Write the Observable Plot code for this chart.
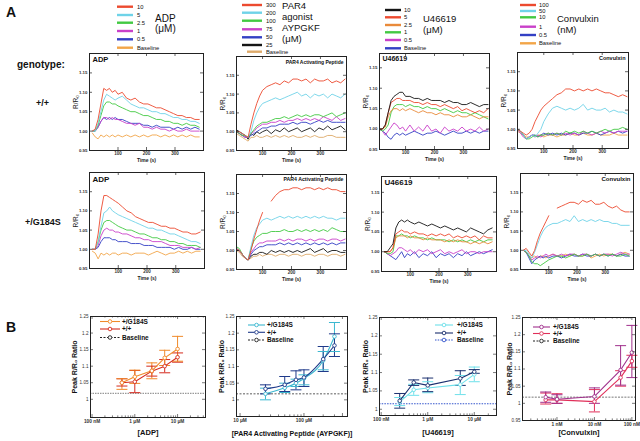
<!DOCTYPE html>
<html><head><meta charset="utf-8">
<script src="https://cdn.jsdelivr.net/npm/d3@7"></script>
<script src="https://cdn.jsdelivr.net/npm/@observablehq/plot@0.6"></script>
<style>
html,body{margin:0;padding:0;background:#fff}
#root{position:relative;width:640px;height:441px;overflow:hidden;background:#fff}
</style></head><body><div id="root"></div>
<script>
const FONT='"Liberation Sans", Arial, Helvetica, sans-serif';
const times=[10,20,30,40,50,60,70,80,90,100,115,130,145,160,175,190,205,220,235,250,265,280,295,310,325,340,355,370,385];

// colours
const RED="#ec4a2f", CYAN="#6fd3e8", GREEN="#42c942", MAG="#c940c9", BLUE="#3340c4", ORANGE="#f2a548", BLACK="#151515", ORANGE2="#e98a3a", TAN="#deaa6a";

// ---- A: ADP +/+
const adpWT10=[1.000,1.005,1.030,1.070,1.110,1.105,1.110,1.100,1.105,1.095,1.100,1.085,1.080,1.085,1.075,1.070,1.070,1.065,1.060,1.060,1.055,1.050,1.045,1.040,1.040,1.035,1.035,1.030,1.030];
const adpWT5=[1.000,1.000,1.020,1.050,1.080,1.095,1.090,1.085,1.080,1.085,1.090,1.080,1.070,1.065,1.060,1.060,1.055,1.050,1.050,1.045,1.045,1.040,1.035,1.035,1.030,1.030,1.025,1.025,1.020];
const adpWT2_5=[1.000,1.000,1.015,1.040,1.065,1.075,1.075,1.070,1.070,1.065,1.060,1.055,1.050,1.050,1.045,1.040,1.040,1.035,1.030,1.030,1.025,1.025,1.020,1.020,1.015,1.020,1.015,1.015,1.010];
const adpWT1=[1.000,1.000,1.010,1.025,1.035,1.035,1.030,1.035,1.030,1.030,1.025,1.020,1.020,1.015,1.020,1.010,1.010,1.005,1.010,1.005,1.005,1.000,1.005,1.000,1.000,1.005,1.000,1.000,1.000];
const adpWT0_5=[1.000,1.000,1.010,1.025,1.035,1.030,1.035,1.030,1.035,1.030,1.030,1.025,1.020,1.020,1.020,1.015,1.015,1.010,1.015,1.010,1.010,1.010,1.005,1.010,1.005,1.010,1.005,1.010,1.005];
const adpWTb=[0.995,0.985,0.980,0.990,0.985,0.990,0.985,0.990,0.985,0.990,0.985,0.990,0.985,0.990,0.985,0.990,0.985,0.990,0.990,0.985,0.990,0.985,0.990,0.985,0.990,0.985,0.990,0.985,0.985];
// ---- A: ADP +/G184S
const adpMT10=[1.000,1.000,1.040,1.100,1.140,1.140,1.135,1.130,1.125,1.120,1.110,1.100,1.095,1.085,1.080,1.075,1.070,1.070,1.065,1.060,1.060,1.055,1.055,1.050,1.045,1.045,1.040,1.040,1.045];
const adpMT5=[1.000,1.000,1.020,1.060,1.095,1.100,1.110,1.100,1.095,1.090,1.085,1.080,1.075,1.070,1.065,1.060,1.055,1.055,1.050,1.050,1.045,1.040,1.040,1.035,1.030,1.025,1.020,1.020,1.015];
const adpMT2_5=[1.000,1.000,1.020,1.050,1.070,1.075,1.075,1.070,1.065,1.060,1.055,1.050,1.050,1.045,1.040,1.040,1.035,1.030,1.030,1.025,1.025,1.020,1.020,1.015,1.015,1.010,1.010,1.010,1.005];
const adpMT1=[1.000,1.000,1.010,1.035,1.050,1.055,1.050,1.050,1.045,1.045,1.040,1.040,1.035,1.030,1.030,1.025,1.025,1.020,1.020,1.020,1.015,1.010,1.010,1.010,1.005,1.005,1.005,1.000,1.005];
const adpMT0_5=[1.000,1.000,1.005,1.020,1.030,1.030,1.030,1.025,1.025,1.020,1.020,1.020,1.015,1.015,1.015,1.010,1.010,1.010,1.005,1.005,1.005,1.005,1.000,1.005,1.000,1.000,1.005,1.000,1.000];
const adpMTb=[0.995,0.990,0.975,0.990,0.985,0.990,0.985,0.990,0.990,0.985,0.990,0.990,0.985,0.990,0.990,0.990,0.985,0.990,0.995,0.990,0.985,0.990,0.990,0.995,0.990,0.995,0.990,0.995,0.995];
// ---- A: PAR4 +/+
const parWT300=[1.000,1.000,0.995,0.990,0.985,1.020,1.050,1.075,1.095,1.110,1.120,1.125,1.130,1.125,1.135,1.130,1.140,1.140,1.135,1.140,1.130,1.140,1.135,1.135,1.140,1.130,1.135,1.130,1.140];
const parWT200=[1.000,1.000,0.995,0.990,0.985,1.000,1.030,1.050,1.065,1.075,1.080,1.085,1.090,1.085,1.090,1.095,1.100,1.105,1.095,1.100,1.090,1.100,1.095,1.100,1.090,1.100,1.095,1.090,1.100];
const parWT100=[1.000,0.995,0.990,0.990,0.985,0.995,1.005,1.015,1.020,1.025,1.025,1.030,1.035,1.035,1.040,1.035,1.040,1.045,1.040,1.045,1.040,1.045,1.045,1.040,1.045,1.050,1.040,1.045,1.050];
const parWT75=[1.000,0.995,0.990,0.985,0.985,0.995,1.000,1.010,1.015,1.020,1.020,1.025,1.025,1.030,1.025,1.030,1.030,1.035,1.030,1.035,1.030,1.035,1.030,1.040,1.035,1.030,1.040,1.030,1.035];
const parWT50=[1.000,0.995,0.990,0.985,0.985,0.990,0.995,1.000,1.005,1.010,1.010,1.015,1.015,1.020,1.020,1.020,1.025,1.020,1.025,1.025,1.020,1.025,1.030,1.025,1.030,1.025,1.025,1.025,1.025];
const parWT25=[1.005,1.000,0.995,0.990,0.980,0.995,0.990,1.000,0.995,1.000,1.005,0.995,1.005,1.000,1.010,1.000,1.005,1.010,1.000,1.005,1.010,1.000,1.010,1.005,1.015,1.005,1.010,1.015,1.005];
const parWTb=[0.995,0.990,0.985,0.980,0.975,0.985,0.985,0.990,0.985,0.985,0.990,0.985,0.990,0.985,0.990,0.985,0.990,0.985,0.985,0.990,0.985,0.990,0.985,0.985,0.990,0.990,0.985,0.985,0.985];
// ---- A: PAR4 +/G184S (NaN = gap in trace)
const parMT300=[1.005,1.000,0.990,0.980,0.975,1.000,1.030,1.055,1.080,1.100,NaN,1.130,1.145,1.155,1.160,1.160,1.165,1.165,1.160,1.165,1.165,1.160,1.165,1.160,1.165,1.160,1.160,1.155,1.155];
const parMT200=[1.005,1.000,0.990,0.980,0.975,1.010,1.040,1.060,1.070,1.080,1.085,1.080,1.085,1.090,1.085,1.090,1.085,1.090,1.085,1.090,1.085,1.090,1.085,1.090,1.085,1.085,1.080,1.085,1.085];
const parMT100=[1.010,1.005,0.990,0.980,0.975,1.005,1.025,1.035,1.040,1.045,1.045,1.050,1.050,1.050,1.055,1.050,1.050,1.055,1.050,1.055,1.050,1.055,1.050,1.055,1.050,1.060,1.055,1.050,1.050];
const parMT75=[1.005,1.000,0.990,0.980,0.975,0.995,1.005,1.015,1.020,1.020,1.025,1.025,1.025,1.030,1.025,1.030,1.025,1.030,1.030,1.025,1.030,1.025,1.030,1.030,1.025,1.030,1.030,1.025,1.030];
const parMT50=[1.005,1.000,0.990,0.980,0.975,0.990,1.000,1.005,1.010,1.010,1.015,1.015,1.015,1.020,1.015,1.020,1.015,1.020,1.015,1.020,1.015,1.020,1.015,1.020,1.015,1.020,1.015,1.020,1.020];
const parMT25=[1.000,1.000,0.990,0.980,0.975,0.985,0.990,0.990,0.995,0.995,0.990,1.000,0.995,1.000,0.995,1.000,0.995,1.000,0.995,1.000,1.005,0.995,1.000,1.005,0.995,1.000,1.000,0.995,0.995];
const parMTb=[1.000,0.995,0.985,0.980,0.975,0.980,0.985,0.985,0.990,0.985,0.990,0.990,0.985,0.990,0.990,0.985,0.990,0.990,0.985,0.990,0.990,0.985,0.990,0.990,0.985,0.990,0.990,0.985,0.990];
// ---- A: U46619 +/+
const uWT10=[1.000,1.000,1.010,1.040,1.070,1.080,1.085,1.090,1.090,1.080,1.080,1.075,1.075,1.070,1.075,1.070,1.070,1.070,1.065,1.070,1.065,1.065,1.060,1.060,1.065,1.060,1.055,1.060,1.060];
const uWT5=[1.000,1.000,1.010,1.040,1.065,1.070,1.075,1.075,1.070,1.070,1.070,1.065,1.065,1.060,1.065,1.060,1.060,1.055,1.060,1.055,1.050,1.055,1.045,1.050,1.045,1.040,1.045,1.040,1.050];
const uWT2_5=[1.000,1.000,1.005,1.030,1.045,1.050,1.050,1.045,1.050,1.045,1.050,1.045,1.040,1.045,1.040,1.040,1.035,1.040,1.035,1.035,1.030,1.035,1.030,1.030,1.035,1.030,1.025,1.030,1.030];
const uWT1=[1.000,0.995,1.000,1.010,1.040,1.055,1.060,1.060,1.060,1.055,1.060,1.055,1.055,1.050,1.055,1.050,1.050,1.045,1.050,1.045,1.040,1.045,1.040,1.040,1.035,1.040,1.035,1.030,1.025];
const uWT0_5=[1.000,0.995,0.985,0.995,1.005,1.015,1.010,1.000,1.005,0.995,1.010,0.995,1.005,0.995,1.010,0.995,1.000,0.990,1.005,0.995,1.000,0.995,1.005,0.995,1.000,0.995,1.005,0.995,1.000];
const uWTb=[1.000,0.995,0.990,0.980,0.975,0.985,0.990,0.985,0.990,0.985,0.990,0.995,0.990,0.985,0.990,0.990,0.995,0.990,0.985,0.990,0.995,0.990,0.990,0.995,0.990,0.995,0.990,0.995,0.995];
// ---- A: U46619 +/G184S
const uMT10=[1.000,1.000,1.010,1.020,1.060,1.075,1.080,1.075,1.080,1.075,1.070,1.075,1.070,1.065,1.070,1.065,1.060,1.065,1.060,1.055,1.060,1.055,1.050,1.060,1.055,1.050,1.045,1.055,1.060];
const uMT5=[1.000,1.000,1.000,1.010,1.045,1.050,1.055,1.050,1.050,1.045,1.050,1.045,1.045,1.040,1.045,1.040,1.045,1.040,1.045,1.035,1.040,1.035,1.040,1.035,1.040,1.030,1.040,1.035,1.035];
const uMT2_5=[1.000,1.000,1.000,1.010,1.035,1.040,1.040,1.040,1.035,1.040,1.035,1.035,1.030,1.035,1.030,1.030,1.030,1.025,1.030,1.025,1.030,1.025,1.025,1.020,1.025,1.020,1.025,1.020,1.025];
const uMT1=[1.000,0.995,0.995,1.000,1.040,1.040,1.045,1.040,1.040,1.035,1.040,1.035,1.035,1.030,1.035,1.030,1.030,1.030,1.025,1.030,1.025,1.030,1.025,1.030,1.025,1.030,1.025,1.030,1.030];
const uMT0_5=[1.000,0.995,0.990,0.995,1.000,1.010,1.010,1.005,1.000,1.005,0.995,1.005,1.000,1.005,0.995,1.000,1.005,0.995,1.000,0.995,1.000,1.005,0.995,1.000,1.000,0.995,1.000,1.000,1.000];
const uMTb=[1.000,0.995,0.990,0.985,0.980,0.990,1.000,0.985,0.995,0.990,1.000,0.985,0.995,0.990,1.000,0.985,0.995,0.990,0.995,0.985,0.995,0.990,1.000,0.990,0.995,1.000,0.995,1.000,1.005];
// ---- A: Convulxin +/+
const cvWT100=[1.000,0.995,0.990,0.985,0.990,1.000,1.020,1.035,1.050,1.060,1.070,1.080,1.090,1.095,1.105,1.105,1.100,1.105,1.100,1.105,1.100,1.105,1.100,1.095,1.095,1.090,1.085,1.090,1.085];
const cvWT50=[1.000,0.995,0.985,0.975,0.980,0.985,0.980,0.990,1.000,1.020,1.040,1.055,1.060,1.055,1.050,1.055,1.050,1.055,1.065,1.050,1.055,1.050,1.050,1.055,1.045,1.050,1.045,1.045,1.040];
const cvWT10=[1.000,0.995,0.985,0.975,0.975,0.980,0.985,0.980,0.985,0.985,0.990,0.985,0.990,0.985,0.995,0.990,0.995,0.990,0.995,0.990,0.995,0.990,0.995,1.000,0.995,1.000,1.000,1.005,1.000];
const cvWT1=[1.000,0.990,0.980,0.975,0.980,0.985,0.980,0.985,0.980,0.985,0.990,0.985,0.990,0.985,0.990,0.985,0.990,0.985,0.995,0.990,0.985,0.990,0.995,0.990,0.995,0.990,0.995,0.995,0.995];
const cvWT0_5=[1.000,0.995,0.985,0.975,0.980,0.985,0.985,0.980,0.985,0.990,0.985,0.990,0.985,0.990,0.985,0.990,0.990,0.985,0.990,0.990,0.995,0.990,0.985,0.990,0.995,0.990,0.995,0.990,0.995];
const cvWTb=[0.995,0.990,0.985,0.980,0.980,0.985,0.980,0.985,0.985,0.980,0.985,0.985,0.980,0.985,0.985,0.990,0.985,0.985,0.990,0.985,0.985,0.990,0.985,0.985,0.985,0.990,0.985,0.985,0.985];
// ---- A: Convulxin +/G184S
const cvMT100=[1.000,1.005,0.995,0.985,1.000,1.025,1.045,1.060,1.075,1.090,NaN,1.110,1.115,1.120,1.125,1.125,1.120,1.130,1.125,1.130,1.120,1.120,1.125,1.115,1.110,1.115,1.105,1.100,1.100];
const cvMT50=[1.000,1.000,0.990,0.980,0.995,1.015,1.035,1.050,1.060,1.065,1.070,1.070,1.075,1.080,1.075,1.090,1.075,1.080,1.075,1.080,1.075,1.080,1.075,1.075,1.070,1.070,1.065,1.065,1.065];
const cvMT10=[1.000,0.995,0.985,0.970,0.965,0.965,0.960,0.965,0.970,0.975,0.980,0.985,0.985,0.980,0.985,0.990,0.985,0.985,0.990,0.985,0.990,0.985,0.990,0.985,0.990,0.985,0.985,0.990,0.985];
const cvMT1=[1.000,0.995,0.985,0.975,0.980,0.985,0.980,0.985,0.990,0.985,0.990,0.985,0.990,0.985,0.990,0.990,0.985,0.990,0.990,0.985,0.990,0.985,0.990,0.990,0.985,0.990,0.995,0.990,0.990];
const cvMT0_5=[1.000,0.995,0.980,0.965,0.975,0.980,0.985,0.980,0.985,0.980,0.985,0.985,0.980,0.985,0.990,0.985,0.985,0.990,0.985,0.985,0.990,0.985,0.990,0.985,0.990,0.985,0.990,0.985,0.985];
const cvMTb=[1.000,0.995,0.985,0.980,0.985,0.980,0.985,0.985,0.980,0.985,0.990,0.985,0.985,0.990,0.985,0.990,0.985,0.985,0.990,0.980,0.985,0.990,0.985,0.990,0.990,0.985,0.990,0.995,0.990];

// ---- A legends
const adpLegLabels=["10","5","2.5","1","0.5","Baseline"], adpLegColors=[RED,CYAN,GREEN,MAG,BLUE,ORANGE];
const parLegLabels=["300","200","100","75","50","25","Baseline"], parLegColors=[RED,CYAN,GREEN,MAG,BLUE,BLACK,TAN];
const uLegLabels=["10","5","2.5","1","0.5","Baseline"], uLegColors=[BLACK,RED,ORANGE2,GREEN,MAG,BLUE];
const cvLegLabels=["100","50","10","1","0.5","Baseline"], cvLegColors=[RED,CYAN,GREEN,MAG,BLUE,ORANGE];

// ---- B: dose-response
const adpDoses=[0.5,1,2.5,5,10];
const adpMTmean=[1.050,1.068,1.086,1.125,1.152], adpMTlo=[1.030,1.048,1.062,1.102,1.115], adpMThi=[1.062,1.088,1.110,1.148,1.190];
const adpWTmean=[1.050,1.053,1.085,1.100,1.127], adpWTlo=[1.040,1.020,1.070,1.080,1.112], adpWThi=[1.062,1.087,1.100,1.120,1.140];
const parDoses=[25,50,75,100,200,300];
const parMTmean=[1.018,1.036,1.050,1.064,1.118,1.190], parMTlo=[1.000,1.022,1.040,1.045,1.090,1.145], parMThi=[1.035,1.050,1.062,1.075,1.145,1.232];
const parWTmean=[1.033,1.045,1.060,1.067,1.122,1.163], parWTlo=[1.018,1.025,1.030,1.040,1.085,1.130], parWThi=[1.045,1.070,1.087,1.090,1.160,1.198];
const uDoses=[0.25,0.5,1,5,10];
const uMTmean=[1.020,1.053,1.058,1.067,1.095], uMTlo=[1.010,1.038,1.045,1.040,1.075], uMThi=[1.032,1.068,1.075,1.092,1.115];
const uWTmean=[1.023,1.073,1.065,1.084,1.102], uWTlo=[1.003,1.065,1.048,1.065,1.098], uWThi=[1.043,1.080,1.085,1.105,1.108];
const cvDoses=[0.5,1,10,50,100];
const cvMTmean=[1.018,1.012,1.020,1.097,1.148], cvMTlo=[1.003,1.000,1.000,1.053,1.075], cvMThi=[1.033,1.025,1.045,1.168,1.227];
const cvWTmean=[1.010,1.010,1.005,1.075,1.123], cvWTlo=[0.998,1.000,0.975,1.050,1.105], cvWThi=[1.030,1.028,1.040,1.095,1.140];
const baselineADP=1.018, baselinePAR=1.018, baselineU=1.015, baselineCV=1.018;

const root=document.getElementById("root");
const STYLE={fontFamily:FONT,fontSize:"5px",background:"transparent",overflow:"visible",color:"#111"};
const cap={draw(ctx,size){const r=Math.sqrt(size/Math.PI);ctx.moveTo(-r,0);ctx.lineTo(r,0);}};

function place(el,L,T,mL,mT){
  el.style.position="absolute";el.style.left=(L-mL)+"px";el.style.top=(T-mT)+"px";el.style.overflow="visible";el.style.maxWidth="none";
  root.appendChild(el);
}

function timePanel(p){
  const w=p.R-p.L,h=p.B-p.T,mL=24,mR=3,mT=2,mB=14;
  const [xa,xb]=p.xd,[ya,yb]=p.yd;
  const rows=[];
  p.series.forEach((s,k)=>s.values.forEach((v,i)=>rows.push({t:times[i],v,k,c:s.color})));
  const xt=[100,200,300], yt=[0.95,1.00,1.05,1.10,1.15];
  const dY=(yb-ya)*3/h, dX=(xb-xa)*3/w;
  const tk={stroke:"#222",strokeWidth:0.7};
  const left=/left$/.test(p.titleAnchor);
  const plot=Plot.plot({
    width:w+mL+mR,height:h+mT+mB,marginLeft:mL,marginRight:mR,marginTop:mT,marginBottom:mB,
    x:{domain:p.xd,label:null},y:{domain:p.yd,label:null},color:{type:"identity"},
    style:STYLE,
    marks:[
      Plot.line(rows,{x:"t",y:"v",z:"k",stroke:"c",strokeWidth:0.9}),
      Plot.ruleX(xt,{x:d=>d,y1:ya,y2:ya+dY,...tk}),
      Plot.ruleX(xt,{x:d=>d,y1:yb-dY,y2:yb,...tk}),
      Plot.ruleY(yt,{y:d=>d,x1:xa,x2:xa+dX,...tk}),
      Plot.ruleY(yt,{y:d=>d,x1:xb-dX,x2:xb,...tk}),
      Plot.frame({stroke:"#222",strokeWidth:1}),
      Plot.axisX(xt,{tickSize:0,tickPadding:1.5,fontSize:4.6,fontWeight:"bold",fill:"#333",tickFormat:d=>String(d)}),
      Plot.axisY(yt,{tickSize:0,tickPadding:2,fontSize:4.4,fontWeight:"bold",fill:"#333",tickFormat:d3.format(".2f")}),
      Plot.text(["Time (s)"],{frameAnchor:"bottom",dy:9.5,lineAnchor:"middle",fontSize:5,fontWeight:"bold",fill:"#222"}),
      Plot.text(["R/R₀"],{frameAnchor:"left",rotate:-90,dx:-14,textAnchor:"middle",lineAnchor:"middle",fontSize:6.5,fill:"#222"}),
      Plot.text([p.title],{frameAnchor:p.titleAnchor,dx:left?3:-3,dy:p.titleDy,textAnchor:left?"start":"end",lineAnchor:"top",fontSize:p.titleSize,fontWeight:"bold",fill:"#111"})
    ]
  });
  place(plot,p.L,p.T,mL,mT);
}

function dosePanel(p){
  const w=p.R-p.L,h=p.B-p.T,mL=26,mR=4,mT=3,mB=22;
  const [xa,xb]=p.xd,[ya,yb]=p.yd;
  const rows=[];
  p.groups.forEach((g,k)=>g.doses.forEach((d,i)=>rows.push({d,m:g.mean[i],lo:g.lo[i],hi:g.hi[i],k,c:g.color})));
  const xr=len=>Math.pow(xb/xa,len/w), yr=len=>(yb-ya)*len/h;
  const lm=new Map(p.xMajor.map((d,i)=>[d,p.xLabels[i]]));
  const tk={stroke:"#222",strokeWidth:0.6};
  const plot=Plot.plot({
    width:w+mL+mR,height:h+mT+mB,marginLeft:mL,marginRight:mR,marginTop:mT,marginBottom:mB,
    x:{type:"log",domain:p.xd,label:null},y:{domain:p.yd,label:null},color:{type:"identity"},
    style:STYLE,
    marks:[
      Plot.ruleY([p.baseline],{y:d=>d,stroke:p.baseColor,strokeDasharray:p.baseDash,strokeWidth:p.baseWidth}),
      Plot.ruleX(rows,{x:"d",y1:"lo",y2:"hi",stroke:"c",strokeWidth:1}),
      Plot.dot(rows,{x:"d",y:"lo",symbol:cap,r:5.5,stroke:"c",strokeWidth:1}),
      Plot.dot(rows,{x:"d",y:"hi",symbol:cap,r:5.5,stroke:"c",strokeWidth:1}),
      Plot.line(rows,{x:"d",y:"m",z:"k",stroke:"c",strokeWidth:1.1,curve:p.curve}),
      Plot.dot(rows,{x:"d",y:"m",r:1.8,stroke:"c",fill:"white",strokeWidth:0.9}),
      Plot.ruleX(p.xMajor,{x:d=>d,y1:ya,y2:ya+yr(3),...tk}),
      Plot.ruleX(p.xMajor,{x:d=>d,y1:yb-yr(3),y2:yb,...tk}),
      Plot.ruleX(p.xMinor,{x:d=>d,y1:ya,y2:ya+yr(1.6),...tk}),
      Plot.ruleX(p.xMinor,{x:d=>d,y1:yb-yr(1.6),y2:yb,...tk}),
      Plot.ruleY(p.yt,{y:d=>d,x1:xa,x2:xa*xr(3),...tk}),
      Plot.ruleY(p.yt,{y:d=>d,x1:xb/xr(3),x2:xb,...tk}),
      Plot.frame({stroke:"#222",strokeWidth:1}),
      Plot.axisX(p.xMajor,{tickSize:0,tickPadding:2,fontSize:4.8,fontWeight:"bold",fill:"#333",tickFormat:d=>lm.get(d)}),
      Plot.axisY(p.yt,{tickSize:0,tickPadding:2,fontSize:4.6,fill:"#333",tickFormat:d=>String(d)}),
      Plot.text([p.xlabel],{frameAnchor:"bottom",dy:p.xlabelDy,lineAnchor:"middle",fontSize:p.xlabelSize||7.5,fontWeight:"bold",fill:"#111"}),
      Plot.text(["Peak R/R₀ Ratio"],{frameAnchor:"left",rotate:-90,dx:p.ylabelDx,textAnchor:"middle",lineAnchor:"middle",fontSize:7,fontWeight:"bold",fill:"#111"})
    ]
  });
  place(plot,p.L,p.T,mL,mT);
}

const S=(values,color)=>({values,color});
// Row 1 (+/+)
timePanel({L:89,T:53,R:203,B:150,xd:[0,400],yd:[0.95,1.20],title:"ADP",titleAnchor:"top-left",titleSize:7.5,titleDy:3,
  series:[S(adpWTb,ORANGE),S(adpWT0_5,BLUE),S(adpWT1,MAG),S(adpWT2_5,GREEN),S(adpWT5,CYAN),S(adpWT10,RED)]});
timePanel({L:236,T:56,R:346,B:150,xd:[10,390],yd:[0.95,1.20],title:"PAR4 Activating Peptide",titleAnchor:"top-right",titleSize:5,titleDy:4,
  series:[S(parWTb,TAN),S(parWT25,BLACK),S(parWT50,BLUE),S(parWT75,MAG),S(parWT100,GREEN),S(parWT200,CYAN),S(parWT300,RED)]});
timePanel({L:379,T:53,R:489,B:149,xd:[10,390],yd:[0.95,1.185],title:"U46619",titleAnchor:"top-left",titleSize:7,titleDy:3,
  series:[S(uWTb,BLUE),S(uWT0_5,MAG),S(uWT1,GREEN),S(uWT2_5,ORANGE2),S(uWT5,RED),S(uWT10,BLACK)]});
timePanel({L:517,T:52,R:628,B:148,xd:[10,390],yd:[0.95,1.20],title:"Convulxin",titleAnchor:"top-right",titleSize:5.5,titleDy:4,
  series:[S(cvWTb,ORANGE),S(cvWT0_5,BLUE),S(cvWT1,MAG),S(cvWT10,GREEN),S(cvWT50,CYAN),S(cvWT100,RED)]});
// Row 2 (+/G184S)
timePanel({L:89,T:172,R:204,B:268,xd:[0,400],yd:[0.95,1.20],title:"ADP",titleAnchor:"top-left",titleSize:8,titleDy:4,
  series:[S(adpMTb,ORANGE),S(adpMT0_5,BLUE),S(adpMT1,MAG),S(adpMT2_5,GREEN),S(adpMT5,CYAN),S(adpMT10,RED)]});
timePanel({L:236,T:174,R:346,B:269,xd:[10,390],yd:[0.95,1.20],title:"PAR4 Activating Peptide",titleAnchor:"top-right",titleSize:5.2,titleDy:3,
  series:[S(parMTb,TAN),S(parMT25,BLACK),S(parMT50,BLUE),S(parMT75,MAG),S(parMT100,GREEN),S(parMT200,CYAN),S(parMT300,RED)]});
timePanel({L:381,T:176,R:496,B:271,xd:[0,400],yd:[0.95,1.19],title:"U46619",titleAnchor:"top-left",titleSize:8,titleDy:3,
  series:[S(uMTb,BLUE),S(uMT0_5,MAG),S(uMT1,GREEN),S(uMT2_5,ORANGE2),S(uMT5,RED),S(uMT10,BLACK)]});
timePanel({L:520,T:173,R:633,B:269,xd:[0,400],yd:[0.95,1.20],title:"Convulxin",titleAnchor:"top-right",titleSize:6,titleDy:3,
  series:[S(cvMTb,ORANGE),S(cvMT0_5,BLUE),S(cvMT1,MAG),S(cvMT10,GREEN),S(cvMT50,CYAN),S(cvMT100,RED)]});

// B panels
const minorDec=(a,b)=>{const r=[];for(let e=a;e<=b;e++)for(let m=2;m<=9;m++)r.push(m*Math.pow(10,e));return r;};
const yB=[1,1.05,1.1,1.15,1.2,1.25];
const G=(doses,mean,lo,hi,color)=>({doses,mean,lo,hi,color});
dosePanel({L:90,T:316,R:205,B:417,xd:[0.092,45],yd:[0.945,1.25],yt:yB,xMajor:[0.1,1,10],xLabels:["100 nM","1 μM","10 μM"],
  xMinor:minorDec(-1,1).filter(d=>d<45),baseline:baselineADP,baseColor:"#999",baseDash:"1.5,1",baseWidth:1.2,curve:"linear",
  xlabel:"[ADP]",xlabelDy:15,ylabelDx:-16,
  groups:[G(adpDoses,adpWTmean,adpWTlo,adpWThi,"#d42a1e"),G(adpDoses,adpMTmean,adpMTlo,adpMThi,"#f08a2a")]});
dosePanel({L:236,T:316,R:347,B:416,xd:[8.8,480],yd:[0.95,1.25],yt:yB,xMajor:[10,100,400],xLabels:["10 μM","100 μM","400 μM"],
  xMinor:minorDec(1,2).filter(d=>d<480&&d!==400),baseline:baselinePAR,baseColor:"#333",baseDash:"2,1.5",baseWidth:0.8,curve:"monotone-x",
  xlabel:"[PAR4 Activating Peptide (AYPGKF)]",xlabelDy:17,xlabelSize:7,ylabelDx:-15,
  groups:[G(parDoses,parMTmean,parMTlo,parMThi,"#3cb8d0"),G(parDoses,parWTmean,parWTlo,parWThi,"#1f3a8a")]});
dosePanel({L:379,T:317,R:496,B:415,xd:[0.092,30],yd:[0.983,1.25],yt:yB,xMajor:[0.1,1,10],xLabels:["100 nM","1 μM","10 μM"],
  xMinor:minorDec(-1,1).filter(d=>d<30),baseline:baselineU,baseColor:"#3355cc",baseDash:"1.5,1.2",baseWidth:1,curve:"linear",
  xlabel:"[U46619]",xlabelDy:17,ylabelDx:-14,
  groups:[G(uDoses,uMTmean,uMTlo,uMThi,"#6ee0ea"),G(uDoses,uWTmean,uWTlo,uWThi,"#1a2f6e")]});
dosePanel({L:522,T:317,R:635,B:420,xd:[0.12,125],yd:[0.95,1.25],yt:[0.95].concat(yB),xMajor:[1,10,100],xLabels:["1 nM","10 nM","100 nM"],
  xMinor:minorDec(-1,1).filter(d=>d>0.12),baseline:baselineCV,baseColor:"#555",baseDash:"2,1.2",baseWidth:0.8,curve:"linear",
  xlabel:"[Convulxin]",xlabelDy:12,ylabelDx:-13,
  groups:[G(cvDoses,cvWTmean,cvWTlo,cvWThi,"#e0305a"),G(cvDoses,cvMTmean,cvMTlo,cvMThi,"#a0308c")]});

// overlay texts & legends
const ov=d3.create("svg").attr("width",640).attr("height",441)
  .style("position","absolute").style("left","0px").style("top","0px").style("font-family",FONT).style("pointer-events","none");
function txt(x,y,s,size,weight="normal",anchor="start",fill="#111"){
  ov.append("text").attr("x",x).attr("y",y).attr("font-size",size).attr("font-weight",weight).attr("text-anchor",anchor).attr("fill",fill).text(s);
}
txt(6,17,"A",14,"bold");
txt(6,332,"B",14,"bold");
txt(17,68,"genotype:",10,"bold");
txt(36,106,"+/+",9,"bold");
txt(25,225,"+/G184S",9,"bold");

const legA=[
  {x0:117,x1:133,tx:137,ys:[6.7,15,22.7,31,39.3,47.7],labels:adpLegLabels,colors:adpLegColors,title:["ADP","(μM)"],titleX:155,titleYs:[22,32],ts:10},
  {x0:242,x1:262,tx:266,ys:[5,12.7,20.7,29.3,37.3,45,51.7],labels:parLegLabels,colors:parLegColors,title:["PAR4","agonist","AYPGKF","(μM)"],titleX:282,titleYs:[9,20,31,42],ts:9.5},
  {x0:385,x1:401,tx:404,ys:[10,17.3,25,32.3,40,48.3],labels:uLegLabels,colors:uLegColors,title:["U46619","(μM)"],titleX:423,titleYs:[22,33],ts:9.5},
  {x0:520,x1:536,tx:539,ys:[5,11,17.3,26.7,35,43.3],labels:cvLegLabels,colors:cvLegColors,title:["Convulxin","(nM)"],titleX:557,titleYs:[22,33],ts:9.5}
];
legA.forEach(l=>{
  l.ys.forEach((y,i)=>{
    ov.append("line").attr("x1",l.x0+(l.labels[i]==="Baseline"&&l.labels.length===7?5:0)).attr("x2",l.x1).attr("y1",y).attr("y2",y).attr("stroke",l.colors[i]).attr("stroke-width",2.4);
    ov.append("text").attr("x",l.tx).attr("y",y).attr("dy","0.35em").attr("font-size",5.8).attr("fill","#111").text(l.labels[i]);
  });
  l.title.forEach((s,i)=>txt(l.titleX,l.titleYs[i],s,l.ts,"normal","start","#111"));
});

const legB=[
  {x0:100,x1:120,tx:122,ys:[321.5,329,337.5],colors:["#f08a2a","#d42a1e","#222"],dash:[null,null,"2,1.5"]},
  {x0:248,x1:265,tx:267,ys:[325,332.3,340],colors:["#3cb8d0","#1f3a8a","#222"],dash:[null,null,"2,1.5"]},
  {x0:435,x1:453,tx:457,ys:[325,333,340],colors:["#6ee0ea","#1a2f6e","#3355cc"],dash:[null,null,"1.5,1.2"]},
  {x0:533,x1:550,tx:553,ys:[327,333.5,341],colors:["#a0308c","#e0305a","#222"],dash:[null,null,"2,1.5"]}
];
const legBLabels=["+/G184S","+/+","Baseline"];
legB.forEach(l=>{
  l.ys.forEach((y,i)=>{
    const ln=ov.append("line").attr("x1",l.x0).attr("x2",l.x1).attr("y1",y).attr("y2",y).attr("stroke",l.colors[i]).attr("stroke-width",1.1);
    if(l.dash[i]) ln.attr("stroke-dasharray",l.dash[i]);
    ov.append("circle").attr("cx",(l.x0+l.x1)/2).attr("cy",y).attr("r",1.8).attr("fill","white").attr("stroke",l.colors[i]).attr("stroke-width",0.9);
    ov.append("text").attr("x",l.tx).attr("y",y).attr("dy","0.35em").attr("font-size",6.5).attr("font-weight","bold").attr("fill","#111").text(legBLabels[i]);
  });
});
root.appendChild(ov.node());
</script></body></html>
